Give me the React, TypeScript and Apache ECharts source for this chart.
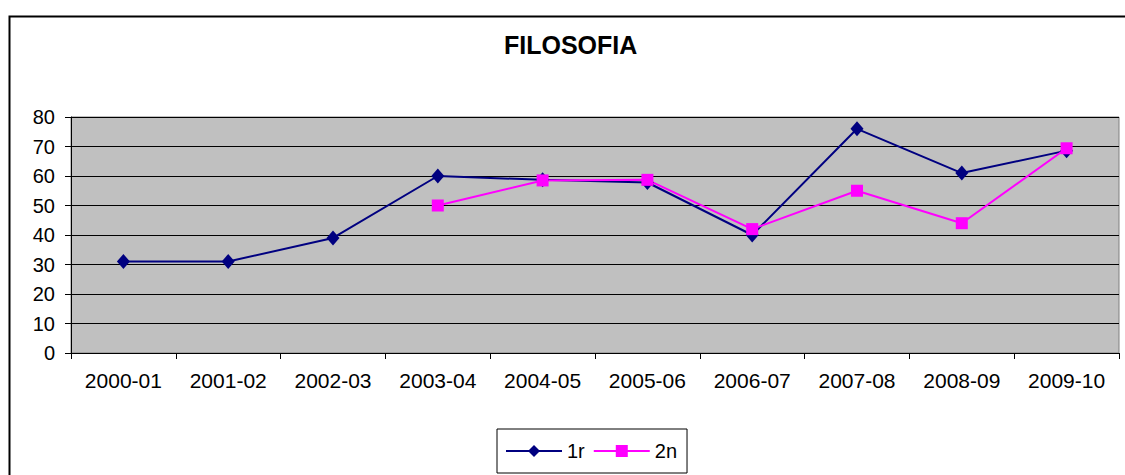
import React, { useEffect, useRef } from "react";
import * as echarts from "echarts";

const categories = ["2000-01", "2001-02", "2002-03", "2003-04", "2004-05", "2005-06", "2006-07", "2007-08", "2008-09", "2009-10"];
const serie1r = [31, 31, 39, 60, 58.7, 57.8, 40, 76, 61, 68.6];
const serie2n = [null, null, null, 50, 58.5, 58.7, 42, 55, 44, 69.4];
const yTicks = { min: 0, max: 80, interval: 10 };

export default function App() {
  const ref = useRef<HTMLDivElement>(null);
  useEffect(() => {
    if (!ref.current) return;
    const chart = echarts.init(ref.current, null, { renderer: "svg" });
    const font = "Liberation Sans, Arial, sans-serif";
    chart.setOption({
      animation: false,
      backgroundColor: "#ffffff",
      textStyle: { fontFamily: font },
      title: {
        text: "FILOSOFIA",
        left: 504,
        top: 32,
        padding: 0,
        textStyle: { fontFamily: font, fontWeight: "bold", fontSize: 25, color: "#000" },
      },
      grid: {
        left: 71,
        right: 6,
        top: 117,
        bottom: 122,
        show: true,
        backgroundColor: "#C0C0C0",
        borderColor: "#808080",
        borderWidth: 1,
      },
      xAxis: {
        type: "category",
        data: categories,
        boundaryGap: true,
        axisLine: { lineStyle: { color: "#000", width: 1 } },
        axisTick: { show: true, length: 6, lineStyle: { color: "#000" } },
        axisLabel: { color: "#000", fontSize: 21, margin: 17, fontFamily: font },
        splitLine: { show: false },
      },
      yAxis: {
        type: "value",
        min: yTicks.min,
        max: yTicks.max,
        interval: yTicks.interval,
        axisLine: { show: true, lineStyle: { color: "#000", width: 1 } },
        axisTick: { show: true, length: 6, lineStyle: { color: "#000" } },
        axisLabel: { color: "#000", fontSize: 20, margin: 16, fontFamily: font },
        splitLine: { show: true, lineStyle: { color: "#000", width: 1 } },
      },
      legend: {
        left: 497,
        top: 429,
        orient: "horizontal",
        padding: [12, 10, 12, 8],
        itemGap: 8,
        itemWidth: 56,
        itemHeight: 15,
        borderColor: "#000",
        borderWidth: 1,
        backgroundColor: "#fff",
        textStyle: { color: "#000", fontSize: 20, fontFamily: font },
        data: ["1r", "2n"],
      },
      series: [
        {
          name: "1r",
          type: "line",
          data: serie1r,
          symbol: "diamond",
          symbolSize: [13, 15],
          lineStyle: { color: "#000080", width: 2 },
          itemStyle: { color: "#000080" },
        },
        {
          name: "2n",
          type: "line",
          data: serie2n,
          symbol: "rect",
          symbolSize: 12,
          connectNulls: false,
          lineStyle: { color: "#FF00FF", width: 2 },
          itemStyle: { color: "#FF00FF" },
        },
      ],
      graphic: [
        {
          type: "rect",
          left: 7,
          top: 14,
          shape: { x: 0, y: 0, width: 1200, height: 500 },
          style: { fill: "none", stroke: "#000", lineWidth: 2 },
          silent: true,
        },
      ],
    });
    return () => chart.dispose();
  }, []);
  return (
    <div
      ref={ref}
      style={{ position: "absolute", left: 0, top: 0, width: 1125, height: 475 }}
    />
  );
}
